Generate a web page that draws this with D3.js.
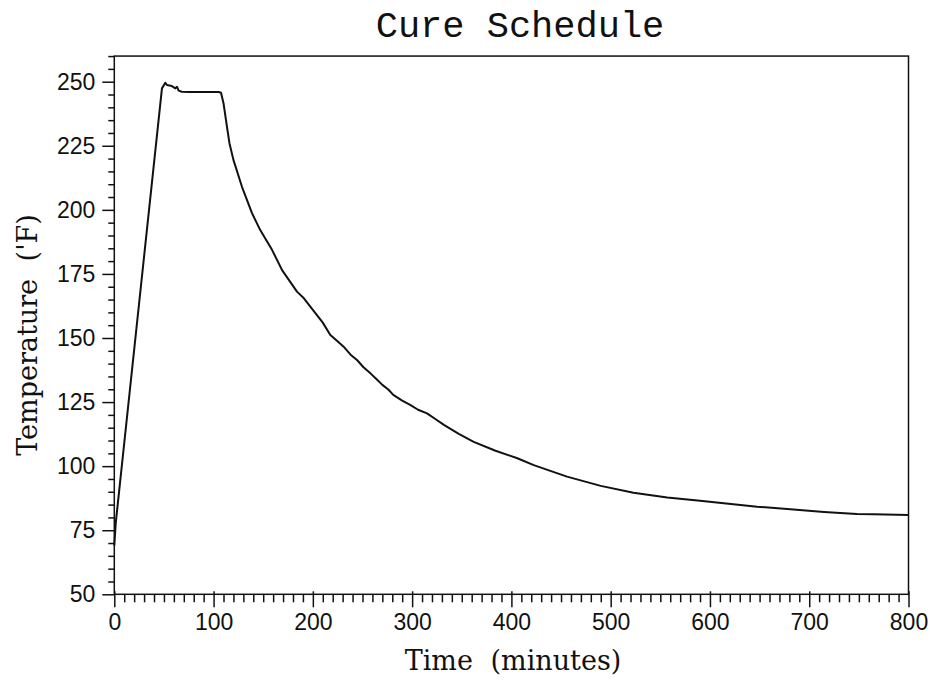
<!DOCTYPE html>
<html>
<head>
<meta charset="utf-8">
<script src="https://cdn.jsdelivr.net/npm/d3@7"></script>
<style>
  html, body { margin: 0; padding: 0; background: #fff; }
  svg { display: block; }
</style>
</head>
<body>
<svg id="chart" width="933" height="681"></svg>
<script>
// Oven temperature log over the cure cycle
const timeMin = [0, 1.5, 48, 51.4, 53, 58, 61.5, 63.2, 64.8, 68, 76, 105, 107.5, 110, 113.5, 116, 120,
  128.6, 138.7, 147, 159, 169, 184, 191, 200, 210, 217.6, 224, 231, 238, 244.5, 251, 258, 264, 270,
  276, 281, 290, 298, 306, 315, 323, 332, 347, 362, 384, 406, 422.5, 456, 490, 523, 557, 590, 614,
  647.5, 681, 715, 748, 765, 800];
const tempF = [69, 78, 247.4, 249.6, 248.7, 248.3, 247.4, 248.0, 246.5, 246.1, 246.0, 246.0, 245.7, 241.6,
  232.4, 226.0, 219.5, 209.0, 198.7, 192.1, 184.3, 176.5, 168.1, 165.5, 161, 156, 151.2, 149, 146.6,
  143.5, 141.4, 138.6, 136.2, 134, 131.7, 129.9, 127.8, 125.6, 123.9, 122, 120.6, 118.5, 116.1, 112.6,
  109.5, 106, 103.1, 100.4, 95.9, 92.3, 89.6, 87.8, 86.5, 85.5, 84.2, 83.2, 82.1, 81.3, 81.2, 80.9];

const xMajorTicks = [0, 100, 200, 300, 400, 500, 600, 700, 800];
const yMajorTicks = [50, 75, 100, 125, 150, 175, 200, 225, 250];
const xDomain = [0, 800];
const yDomain = [50, 260];

const titleText = "Cure Schedule";
const xTitle = "Time (minutes)";
const yTitle = "Temperature ('F)";

(function draw() {
  const svg = d3.select("#chart");
  const plotLeft = 114.3, plotRight = 908.5, plotBottom = 594.3;

  const x = d3.scaleLinear().domain(xDomain).range([plotLeft, plotRight]);
  const y = d3.scaleLinear().domain(yDomain)
    .range([plotBottom, plotBottom - (yDomain[1] - yDomain[0]) * 2.563]);

  const ink = "#111";
  const tickFont = "'Liberation Sans', Arial, sans-serif";

  // minor ticks
  const xMinor = d3.range(0, 801, 10).filter(v => v % 100 !== 0);
  const yMinor = d3.range(50, 261, 5).filter(v => v % 25 !== 0);

  svg.append("g")
    .attr("transform", `translate(0,${plotBottom})`)
    .call(d3.axisBottom(x).tickValues(xMinor).tickSize(8).tickFormat(""))
    .call(g => g.select(".domain").remove())
    .call(g => g.selectAll("line").attr("stroke", ink).attr("stroke-width", 1.5));

  svg.append("g")
    .attr("transform", `translate(0,${plotBottom})`)
    .call(d3.axisBottom(x).tickValues(xMajorTicks).tickSize(13).tickPadding(6).tickFormat(d3.format("d")))
    .call(g => g.select(".domain").remove())
    .call(g => g.selectAll("line").attr("stroke", ink).attr("stroke-width", 1.5).attr("y1", -3))
    .call(g => g.selectAll("text").attr("fill", ink)
      .style("font-family", tickFont).style("font-size", "23px"));

  svg.append("g")
    .attr("transform", `translate(${plotLeft},0)`)
    .call(d3.axisLeft(y).tickValues(yMinor).tickSize(6).tickFormat(""))
    .call(g => g.select(".domain").remove())
    .call(g => g.selectAll("line").attr("stroke", ink).attr("stroke-width", 1.5));

  svg.append("g")
    .attr("transform", `translate(${plotLeft},0)`)
    .call(d3.axisLeft(y).tickValues(yMajorTicks).tickSize(12).tickPadding(7).tickFormat(d3.format("d")))
    .call(g => g.select(".domain").remove())
    .call(g => g.selectAll("line").attr("stroke", ink).attr("stroke-width", 1.5))
    .call(g => g.selectAll("text").attr("fill", ink)
      .style("font-family", tickFont).style("font-size", "23px"));

  // plot frame
  svg.append("rect")
    .attr("x", plotLeft).attr("y", y(yDomain[1]))
    .attr("width", plotRight - plotLeft).attr("height", plotBottom - y(yDomain[1]))
    .attr("fill", "none").attr("stroke", ink).attr("stroke-width", 1.5);

  // temperature trace
  const pts = timeMin.map((t, i) => [t, tempF[i]]);
  svg.append("path")
    .datum(pts)
    .attr("fill", "none")
    .attr("stroke", ink)
    .attr("stroke-width", 2)
    .attr("stroke-linejoin", "round")
    .attr("d", d3.line().x(d => x(d[0])).y(d => y(d[1])));

  // titles
  svg.append("text")
    .attr("x", 520).attr("y", 37)
    .attr("text-anchor", "middle")
    .style("font-family", "'Liberation Mono', 'Courier New', monospace")
    .style("font-size", "37px")
    .attr("fill", ink)
    .text(titleText);

  svg.append("text")
    .attr("x", 513).attr("y", 670)
    .attr("text-anchor", "middle")
    .style("font-family", "'DejaVu Serif', serif")
    .style("font-size", "27px")
    .style("word-spacing", "9px")
    .attr("fill", ink)
    .text(xTitle);

  svg.append("text")
    .attr("transform", "translate(37,335) rotate(-90)")
    .attr("text-anchor", "middle")
    .style("font-family", "'DejaVu Serif', serif")
    .style("font-size", "27px")
    .style("word-spacing", "9px")
    .attr("fill", ink)
    .text(yTitle);
})();
</script>
</body>
</html>
